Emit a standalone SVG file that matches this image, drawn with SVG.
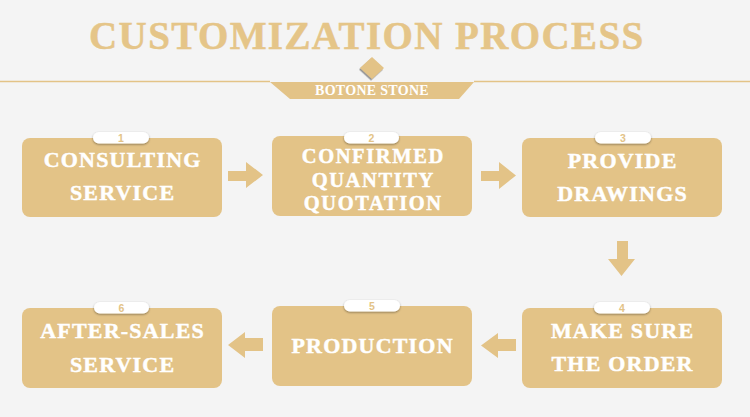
<svg xmlns="http://www.w3.org/2000/svg" width="750" height="417" viewBox="0 0 750 417">
<defs>
<style>
.box{fill:#e3c387}
.ttl{font-family:"Liberation Serif",serif;font-weight:bold;fill:#fff;stroke:#fff;stroke-width:0.45px;font-size:22px;letter-spacing:1.2px;text-anchor:middle}
.t2{font-size:20.5px;letter-spacing:1.6px}
.badge{fill:#fff;filter:url(#sh)}
.num{font-family:"Liberation Sans",Arial,sans-serif;font-weight:bold;font-size:10.5px;fill:#e3c387;text-anchor:middle}
.arr{fill:#e3c387}
</style>
<filter id="sh" x="-20%" y="-50%" width="140%" height="220%">
<feDropShadow dx="0" dy="1" stdDeviation="1.3" flood-color="#000" flood-opacity="0.4"/>
</filter>
<filter id="dsh" x="-30%" y="-30%" width="160%" height="160%">
<feDropShadow dx="-1" dy="1.5" stdDeviation="0.6" flood-color="#555" flood-opacity="0.6"/>
</filter>
</defs>
<rect width="750" height="417" fill="#f4f4f4"/>
<g id="header">
<text x="89" y="49" font-family="Liberation Serif,serif" font-weight="bold" font-size="39" letter-spacing="1.4" fill="#e5c588" stroke="#e5c588" stroke-width="0.5">CUSTOMIZATION PROCESS</text>
<path d="M0 81.5H270M474 81.5H750" stroke="#e3c387" stroke-width="1.3" fill="none"/>
<path d="M270 82H474L459 99H290Z" fill="#e3c387"/>
<path d="M372 57L384 68L372 79L360 68Z" fill="#e3c387" filter="url(#dsh)"/>
<text x="372" y="94.5" font-family="Liberation Serif,serif" font-weight="bold" font-size="14" letter-spacing="0.3" fill="#fff" text-anchor="middle">BOTONE STONE</text>
</g>
<g id="connectors">
<path class="arr" d="M228 171H246V162L263 175L246 188V181H228Z"/>
<path class="arr" d="M481 171H499V162L516 175.5L499 189V181H481Z"/>
<path class="arr" d="M617 241H628V259H635L621.5 276L608 259H617Z"/>
<path class="arr" d="M516 339H498V333L481 345.5L498 358V351H516Z"/>
<path class="arr" d="M263 338H245V332L228 345L245 358V351H263Z"/>
</g>
<g id="node1">
<rect class="box" x="22" y="138" width="200" height="79" rx="8"/>
<rect class="badge" x="93" y="132" width="56" height="11.5" rx="5.75"/>
<text class="num" x="121" y="141.5">1</text>
<text class="ttl" x="122.6" y="167">CONSULTING</text>
<text class="ttl" x="122.6" y="199.5">SERVICE</text>
</g>
<g id="node2">
<rect class="box" x="272" y="136" width="200" height="80" rx="8"/>
<rect class="badge" x="344" y="132" width="55" height="11.5" rx="5.75"/>
<text class="num" x="371.5" y="141.5">2</text>
<text class="ttl t2" x="373.3" y="163">CONFIRMED</text>
<text class="ttl t2" x="373.3" y="186.5">QUANTITY</text>
<text class="ttl t2" x="373.3" y="209.5">QUOTATION</text>
</g>
<g id="node3">
<rect class="box" x="522" y="138" width="200" height="79" rx="8"/>
<rect class="badge" x="595" y="132" width="56" height="11.5" rx="5.75"/>
<text class="num" x="623" y="141.5">3</text>
<text class="ttl" x="622.6" y="168">PROVIDE</text>
<text class="ttl" x="622.6" y="201">DRAWINGS</text>
</g>
<g id="node4">
<rect class="box" x="522" y="308" width="200" height="80" rx="8"/>
<rect class="badge" x="594" y="302" width="56" height="11.5" rx="5.75"/>
<text class="num" x="622" y="311.5">4</text>
<text class="ttl" x="622.6" y="338">MAKE SURE</text>
<text class="ttl" x="622.6" y="371">THE ORDER</text>
</g>
<g id="node5">
<rect class="box" x="272" y="306" width="200" height="80" rx="8"/>
<rect class="badge" x="344" y="300" width="56" height="11.5" rx="5.75"/>
<text class="num" x="372" y="309.5">5</text>
<text class="ttl" x="372.6" y="353">PRODUCTION</text>
</g>
<g id="node6">
<rect class="box" x="22" y="308" width="200" height="80" rx="8"/>
<rect class="badge" x="94" y="302" width="55" height="11.5" rx="5.75"/>
<text class="num" x="121.5" y="311.5">6</text>
<text class="ttl" x="122.6" y="338">AFTER-SALES</text>
<text class="ttl" x="122.6" y="372">SERVICE</text>
</g>
</svg>
